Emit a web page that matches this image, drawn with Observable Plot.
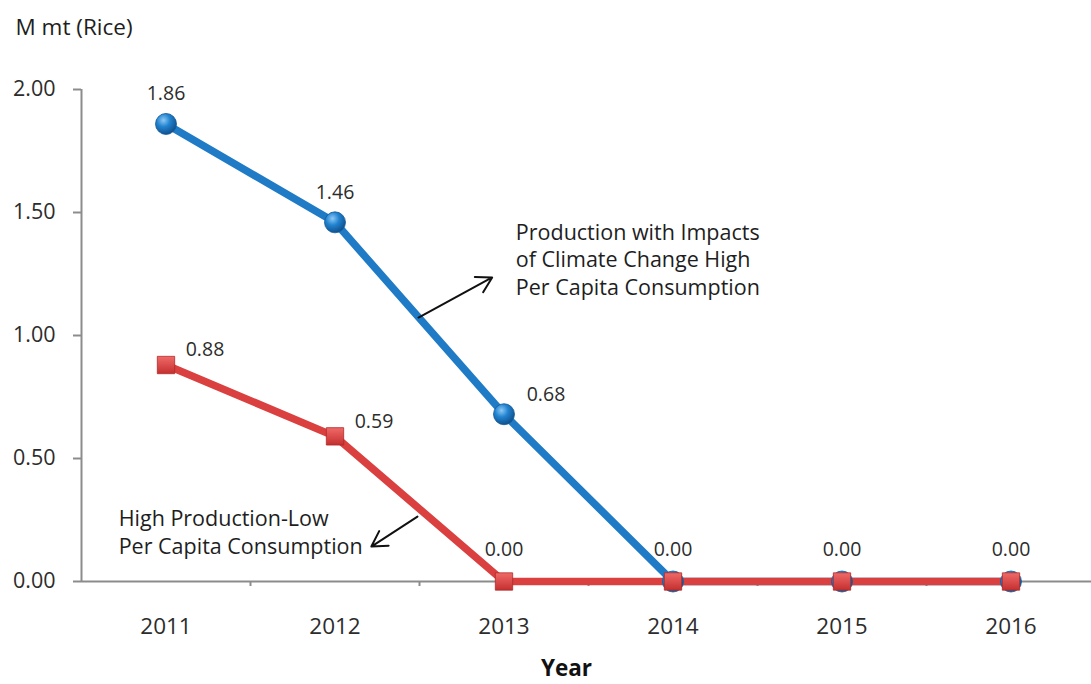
<!DOCTYPE html>
<html>
<head>
<meta charset="utf-8">
<script src="https://cdn.jsdelivr.net/npm/d3@7"></script>
<script src="https://cdn.jsdelivr.net/npm/@observablehq/plot@0.6"></script>
<style>
  html, body { margin: 0; padding: 0; background: #fff; }
  #chart svg { display: block; }
</style>
</head>
<body>
<div id="chart"></div>
<script>
// Rice surplus scenarios, million metric tons
const years = [2011, 2012, 2013, 2014, 2015, 2016];
const climateImpactHighConsumption = [1.86, 1.46, 0.68, 0.00, 0.00, 0.00];
const highProductionLowConsumption = [0.88, 0.59, 0.00, 0.00, 0.00, 0.00];

// Axis ticks
const yTicks = [0, 0.5, 1, 1.5, 2];
const yearBoundaries = [2011.5, 2012.5, 2013.5, 2014.5, 2015.5];
const yAxisTitle = "M mt (Rice)";
const xAxisTitle = "Year";

// Series call-outs (anchored in year / value units)
const noteText = [
  "Production with Impacts\nof Climate Change High\nPer Capita Consumption",
  "High Production-Low\nPer Capita Consumption"
];
const noteYear = [2013.07, 2010.72];
const noteValue = [1.313, 0.205];
const arrowYearFrom = [2012.494, 2012.488];
const arrowValueFrom = [1.073, 0.264];
const arrowYearTo = [2012.93, 2012.215];
const arrowValueTo = [1.236, 0.142];

const blue = years.map((year, i) => ({year, value: climateImpactHighConsumption[i]}));
const red = years.map((year, i) => ({year, value: highProductionLowConsumption[i]}));
const notes = noteText.map((text, i) => ({text, x: noteYear[i], y: noteValue[i]}));
const arrows = noteText.map((_, i) => ({
  x1: arrowYearFrom[i], y1: arrowValueFrom[i], x2: arrowYearTo[i], y2: arrowValueTo[i]
}));

const fmt = d3.format(".2f");
const font = "'Open Sans', 'DejaVu Sans', sans-serif";
const labelColor = "#2c2c2c";
const axisGray = "#8c8c8c";
const blueColor = "#1f7bc6";
const redColor = "#d9403f";

const chart = Plot.plot({
  width: 1091,
  height: 684,
  marginLeft: 81,
  marginRight: 0,
  marginTop: 89,
  marginBottom: 103,
  style: {fontFamily: font, fontSize: "21px", background: "#fff", overflow: "visible"},
  x: {type: "linear", domain: [2010.5, 2016.5], range: [81, 1095]},
  y: {domain: [0, 2]},
  marks: [
    // axis lines
    Plot.ruleX([2010.5], {stroke: axisGray, strokeWidth: 2}),
    Plot.ruleY([0], {stroke: axisGray, strokeWidth: 2}),
    Plot.axisY({
      ticks: yTicks, tickFormat: fmt, tickSize: 8, tickPadding: 18,
      stroke: axisGray, strokeWidth: 2, fill: labelColor, fontSize: 21.5, label: null
    }),
    Plot.axisX({
      ticks: yearBoundaries, tickFormat: () => "", tickSize: 5,
      stroke: axisGray, strokeWidth: 2, label: null
    }),
    Plot.axisX({
      ticks: years, tickFormat: d => String(d), tickSize: 0, tickPadding: 37,
      fill: labelColor, fontSize: 22.5, label: null
    }),
    // series
    Plot.line(blue, {x: "year", y: "value", stroke: blueColor, strokeWidth: 7.5}),
    Plot.line(red, {x: "year", y: "value", stroke: redColor, strokeWidth: 7.5}),
    Plot.dot(blue, {x: "year", y: "value", r: 10.5, fill: "url(#ball)", stroke: "#145a96", strokeWidth: 0.8}),
    Plot.dot(red, {x: "year", y: "value", symbol: "square", r: 9.8, fill: "url(#block)", stroke: "#b02a2a", strokeWidth: 0.8}),
    // value labels
    Plot.text(blue.filter(d => d.value >= 1), {x: "year", y: "value", text: d => fmt(d.value), dy: -30, fill: labelColor, fontSize: 19.5}),
    Plot.text(blue.filter(d => d.value > 0 && d.value < 1), {x: "year", y: "value", text: d => fmt(d.value), dx: 42, dy: -19, fill: labelColor, fontSize: 19.5}),
    Plot.text(red.filter(d => d.value > 0), {x: "year", y: "value", text: d => fmt(d.value), dx: 39, dy: -15, fill: labelColor, fontSize: 19.5}),
    Plot.text(red.filter(d => d.value === 0), {x: "year", y: "value", text: d => fmt(d.value), dy: -32, fill: labelColor, fontSize: 19.5}),
    // call-outs
    Plot.arrow(arrows, {x1: "x1", y1: "y1", x2: "x2", y2: "y2", stroke: "#111", strokeWidth: 2, headLength: 13, bend: 0}),
    Plot.text(notes, {x: "x", y: "y", text: "text", textAnchor: "start", lineHeight: 1.3, fill: "#1e1e1e", fontSize: 21.5}),
    // titles
    Plot.text([yAxisTitle], {frameAnchor: "top-left", lineAnchor: "middle", dx: -66, dy: -62, textAnchor: "start", fill: "#1e1e1e", fontSize: 22.5}),
    Plot.text([xAxisTitle], {frameAnchor: "bottom", lineAnchor: "middle", dx: -20, dy: 87, fill: "#111", fontSize: 22.5, fontWeight: "bold"})
  ]
});

// Shaded fills for the markers
const defs = d3.select(chart).insert("defs", ":first-child");
const ball = defs.append("radialGradient").attr("id", "ball").attr("cx", "38%").attr("cy", "32%").attr("r", "70%");
ball.append("stop").attr("offset", "0%").attr("stop-color", "#8cc8f5");
ball.append("stop").attr("offset", "45%").attr("stop-color", "#2283d0");
ball.append("stop").attr("offset", "100%").attr("stop-color", "#0f4f8c");
const block = defs.append("linearGradient").attr("id", "block").attr("x1", "0").attr("y1", "0").attr("x2", "0").attr("y2", "1");
block.append("stop").attr("offset", "0%").attr("stop-color", "#f06a68");
block.append("stop").attr("offset", "100%").attr("stop-color", "#c42f2f");

document.getElementById("chart").appendChild(chart);
</script>
</body>
</html>
